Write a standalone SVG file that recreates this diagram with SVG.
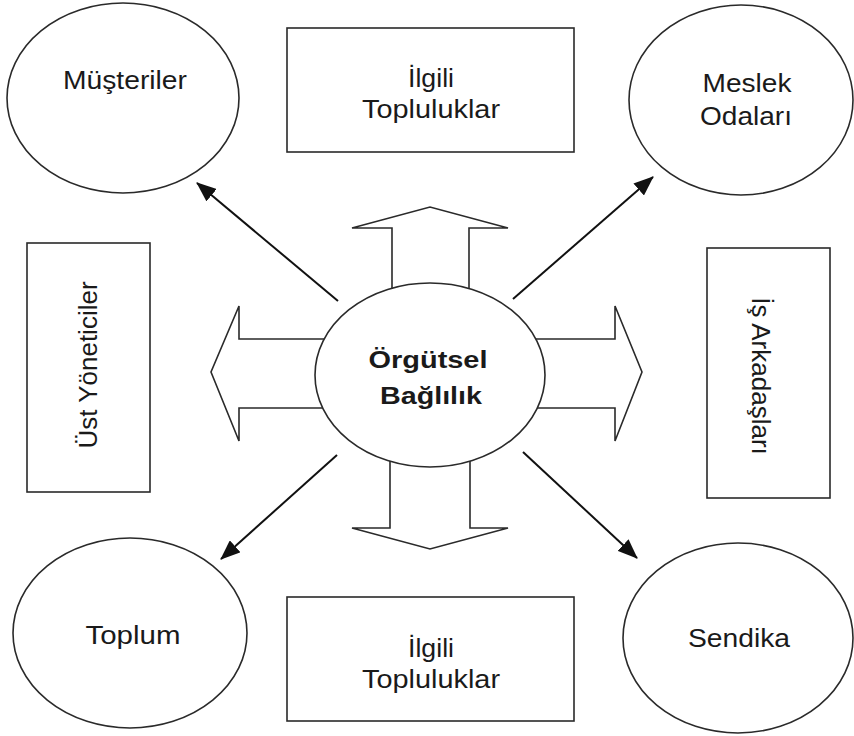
<svg xmlns="http://www.w3.org/2000/svg" width="854" height="736" viewBox="0 0 854 736">
  <defs>
    <style>
      .shape { fill: #ffffff; stroke: #2a2a2a; stroke-width: 1.6; }
      .big { fill: #ffffff; stroke: #2a2a2a; stroke-width: 1.6; stroke-linejoin: miter; }
      .conn { stroke: #111111; stroke-width: 2; fill: none; }
      .lbl { font-family: "Liberation Sans", Arial, sans-serif; font-size: 25px; fill: #1a1a1a; text-anchor: middle; }
      .bold { font-weight: bold; font-size: 24px; }
    </style>
    <marker id="head" viewBox="0 0 20 16" refX="19" refY="8" markerWidth="20" markerHeight="16" markerUnits="userSpaceOnUse" orient="auto">
      <path d="M0,0 L20,8 L0,16 Z" fill="#111111"/>
    </marker>
  </defs>

  <rect width="854" height="736" fill="#ffffff"/>

  <!-- block arrows radiating from the centre -->
  <g id="block-arrows">
    <polygon class="big" points="392,300 392,228 352,228 430,207 508,228 469,228 469,300"/>
    <polygon class="big" points="390,450 390,528 352,528 430,549 508,528 470,528 470,450"/>
    <polygon class="big" points="330,339 239,339 239,306 211,372 239,441 239,408 330,408"/>
    <polygon class="big" points="530,339 615,339 615,306 642,372 615,441 615,408 530,408"/>
  </g>

  <!-- diagonal connectors -->
  <g id="connectors">
    <line class="conn" x1="338" y1="301" x2="197" y2="183" marker-end="url(#head)"/>
    <line class="conn" x1="513" y1="299" x2="653" y2="177" marker-end="url(#head)"/>
    <line class="conn" x1="337" y1="455" x2="221" y2="559" marker-end="url(#head)"/>
    <line class="conn" x1="523" y1="452" x2="637" y2="558" marker-end="url(#head)"/>
  </g>

  <g id="center">
    <ellipse class="shape" cx="430" cy="375" rx="115" ry="92"/>
    <text class="lbl bold" x="428" y="368" textLength="119" lengthAdjust="spacingAndGlyphs">Örgütsel</text>
    <text class="lbl bold" x="431" y="404" textLength="102" lengthAdjust="spacingAndGlyphs">Bağlılık</text>
  </g>

  <g id="musteriler">
    <ellipse class="shape" cx="123" cy="98" rx="116" ry="95"/>
    <text class="lbl" x="125" y="89" textLength="124" lengthAdjust="spacingAndGlyphs">Müşteriler</text>
  </g>

  <g id="ilgili-ust">
    <rect class="shape" x="287" y="28" width="287" height="124"/>
    <text class="lbl" x="431" y="87" textLength="46" lengthAdjust="spacingAndGlyphs">İlgili</text>
    <text class="lbl" x="431" y="118" textLength="138" lengthAdjust="spacingAndGlyphs">Topluluklar</text>
  </g>

  <g id="meslek-odalari">
    <ellipse class="shape" cx="741" cy="100" rx="112" ry="95"/>
    <text class="lbl" x="747" y="92" textLength="89" lengthAdjust="spacingAndGlyphs">Meslek</text>
    <text class="lbl" x="746" y="125" textLength="92" lengthAdjust="spacingAndGlyphs">Odaları</text>
  </g>

  <g id="ust-yoneticiler">
    <rect class="shape" x="27" y="243" width="123" height="249"/>
    <text class="lbl" transform="translate(97,365) rotate(-90)" x="0" y="0" style="font-size:26px">Üst Yöneticiler</text>
  </g>

  <g id="is-arkadaslari">
    <rect class="shape" x="707" y="248" width="123" height="250"/>
    <text class="lbl" transform="translate(752,376) rotate(90)" x="0" y="0" style="font-size:26px">İş Arkadaşları</text>
  </g>

  <g id="toplum">
    <ellipse class="shape" cx="130" cy="633" rx="117" ry="95"/>
    <text class="lbl" x="133" y="644" textLength="95" lengthAdjust="spacingAndGlyphs">Toplum</text>
  </g>

  <g id="ilgili-alt">
    <rect class="shape" x="287" y="597" width="287" height="124"/>
    <text class="lbl" x="431" y="657" textLength="46" lengthAdjust="spacingAndGlyphs">İlgili</text>
    <text class="lbl" x="431" y="688" textLength="138" lengthAdjust="spacingAndGlyphs">Topluluklar</text>
  </g>

  <g id="sendika">
    <ellipse class="shape" cx="738" cy="638" rx="115" ry="95"/>
    <text class="lbl" x="739" y="647" textLength="102" lengthAdjust="spacingAndGlyphs">Sendika</text>
  </g>
</svg>
